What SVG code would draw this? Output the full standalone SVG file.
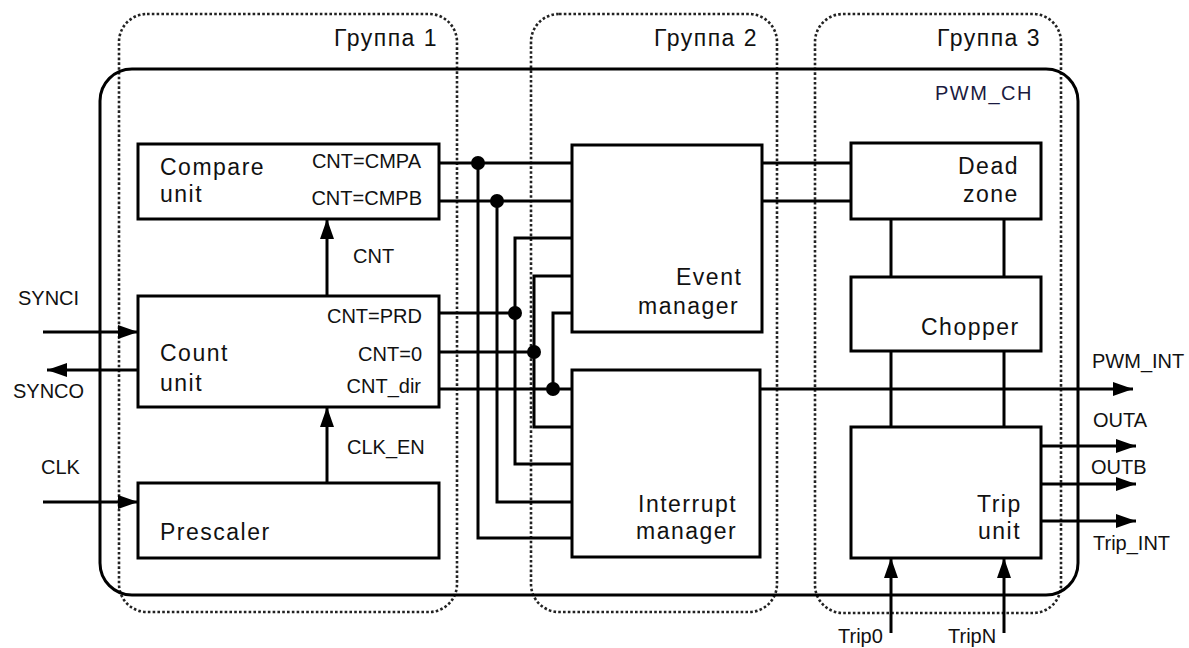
<svg xmlns="http://www.w3.org/2000/svg" width="1189" height="648" viewBox="0 0 1189 648">
<style>
.grp{fill:none;stroke:#222;stroke-width:2.6;stroke-dasharray:2.6 2.2}
.frame{fill:none;stroke:#000;stroke-width:3}
.box{fill:#fff;stroke:#000;stroke-width:3}
.w{fill:none;stroke:#000;stroke-width:3}
.big{font-family:"Liberation Sans",Arial,sans-serif;font-size:23px;letter-spacing:1.5px;fill:#111}
.sm{font-family:"Liberation Sans",Arial,sans-serif;font-size:20px;fill:#111}
.end{text-anchor:end}
</style>
<defs>
<marker id="ah" markerUnits="userSpaceOnUse" markerWidth="22" markerHeight="16" refX="20" refY="7" orient="auto">
<path d="M0,0 L20,7 L0,14 Z" fill="#000"/>
</marker>
</defs>

<g id="groups">
<rect class="grp" x="119" y="14" width="338" height="598" rx="28"/>
<rect class="grp" x="531" y="14" width="246" height="598" rx="28"/>
<rect class="grp" x="815" y="14" width="246" height="599" rx="28"/>
<text class="big" x="334" y="46">Группа 1</text>
<text class="big" x="654" y="46">Группа 2</text>
<text class="big" x="937" y="46">Группа 3</text>
</g>

<g id="pwm_ch">
<rect class="frame" x="100" y="69" width="978" height="526" rx="32"/>
<text class="sm" x="935" y="100" style="letter-spacing:1.5px;fill:#1a1a40">PWM_CH</text>
</g>

<g id="connectors">
<!-- compare outputs -->
<path class="w" d="M439,163 H572"/>
<path class="w" d="M439,201 H572"/>
<!-- count outputs -->
<path class="w" d="M439,313 H515"/>
<path class="w" d="M439,352 H534"/>
<path class="w" d="M439,389 H572"/>
<!-- buses -->
<path class="w" d="M478,163 V538 H572"/>
<path class="w" d="M497,201 V502 H572"/>
<path class="w" d="M572,238 H515 V464 H572"/>
<path class="w" d="M572,276 H534 V427 H572"/>
<path class="w" d="M572,313 H553 V389"/>
<!-- junctions -->
<circle cx="478" cy="163" r="7"/>
<circle cx="497" cy="201" r="7"/>
<circle cx="515" cy="313" r="7"/>
<circle cx="534" cy="352" r="7"/>
<circle cx="553" cy="389" r="7"/>
<!-- event to dead zone -->
<path class="w" d="M762,163 H851"/>
<path class="w" d="M762,201 H851"/>
<!-- group 3 verticals -->
<path class="w" d="M891,219 V277 M1004,219 V277 M891,351 V427 M1004,351 V427"/>
<!-- PWM_INT -->
<path class="w" d="M760,389 H1133" marker-end="url(#ah)"/>
<!-- trip outputs -->
<path class="w" d="M1041,446 H1136" marker-end="url(#ah)"/>
<path class="w" d="M1041,484 H1136" marker-end="url(#ah)"/>
<path class="w" d="M1041,521 H1136" marker-end="url(#ah)"/>
<!-- trip inputs -->
<path class="w" d="M891,633 V558" marker-end="url(#ah)"/>
<path class="w" d="M1004,633 V558" marker-end="url(#ah)"/>
<!-- internal group1 -->
<path class="w" d="M327,296 V219" marker-end="url(#ah)"/>
<path class="w" d="M327,483 V407" marker-end="url(#ah)"/>
<!-- external left -->
<path class="w" d="M43,332 H138" marker-end="url(#ah)"/>
<path class="w" d="M138,370 H47" marker-end="url(#ah)"/>
<path class="w" d="M43,502 H138" marker-end="url(#ah)"/>
<!-- labels -->
<text class="sm" x="353" y="263">CNT</text>
<text class="sm" x="347" y="454">CLK_EN</text>
<text class="sm" x="18" y="305">SYNCI</text>
<text class="sm" x="13" y="398">SYNCO</text>
<text class="sm" x="41" y="474">CLK</text>
<text class="sm" x="1092" y="368">PWM_INT</text>
<text class="sm" x="1093" y="427">OUTA</text>
<text class="sm" x="1091" y="474">OUTB</text>
<text class="sm" x="1093" y="550">Trip_INT</text>
<text class="sm" x="838" y="643">Trip0</text>
<text class="sm" x="948" y="643">TripN</text>
</g>

<g id="compare_unit">
<rect class="box" x="138" y="144" width="301" height="75"/>
<text class="big" x="160" y="175">Compare</text>
<text class="big" x="160" y="202">unit</text>
<text class="sm end" x="421" y="168">CNT=CMPA</text>
<text class="sm end" x="422" y="205">CNT=CMPB</text>
</g>

<g id="count_unit">
<rect class="box" x="138" y="296" width="301" height="111"/>
<text class="big" x="160" y="361">Count</text>
<text class="big" x="160" y="391">unit</text>
<text class="sm end" x="422" y="323">CNT=PRD</text>
<text class="sm end" x="422" y="361">CNT=0</text>
<text class="sm end" x="421" y="393">CNT_dir</text>
</g>

<g id="prescaler">
<rect class="box" x="138" y="483" width="301" height="75"/>
<text class="big" x="160" y="540">Prescaler</text>
</g>

<g id="event_manager">
<rect class="box" x="572" y="145" width="190" height="187"/>
<text class="big" x="676" y="285">Event</text>
<text class="big" x="638" y="314">manager</text>
</g>

<g id="interrupt_manager">
<rect class="box" x="572" y="370" width="188" height="187"/>
<text class="big" x="638" y="512">Interrupt</text>
<text class="big" x="636" y="539">manager</text>
</g>

<g id="dead_zone">
<rect class="box" x="851" y="143" width="190" height="76"/>
<text class="big" x="958" y="174">Dead</text>
<text class="big" x="963" y="202">zone</text>
</g>

<g id="chopper">
<rect class="box" x="851" y="277" width="190" height="74"/>
<text class="big" x="921" y="335">Chopper</text>
</g>

<g id="trip_unit">
<rect class="box" x="851" y="427" width="190" height="131"/>
<text class="big" x="977" y="512">Trip</text>
<text class="big" x="978" y="539">unit</text>
</g>
</svg>
